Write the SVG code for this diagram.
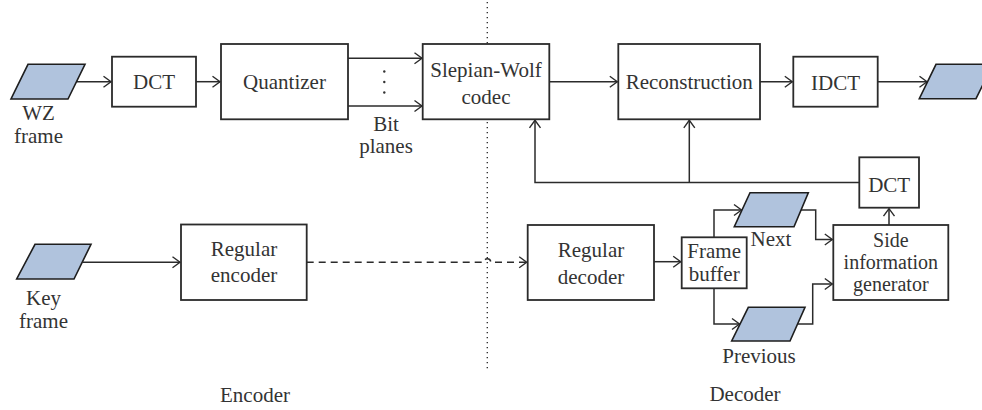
<svg xmlns="http://www.w3.org/2000/svg" width="982" height="410" viewBox="0 0 982 410">
<defs>
<marker id="arr" markerUnits="userSpaceOnUse" markerWidth="14" markerHeight="14" viewBox="-10 -7 12 14" refX="0" refY="0" orient="auto">
<path d="M-7.5,-5.5 L0,0 L-7.5,5.5" fill="none" stroke="#2b2b2b" stroke-width="1.4"/>
</marker>
</defs>
<style>
.box{fill:#fff;stroke:#2b2b2b;stroke-width:1.8}
.para{fill:#b0c3dd;stroke:#1e1e1e;stroke-width:1.6;stroke-linejoin:miter}
.ln{fill:none;stroke:#2b2b2b;stroke-width:1.5}
.t{font-family:"Liberation Serif","Times New Roman",serif;font-size:21px;fill:#333;text-anchor:middle}
.s{font-size:20px}
</style>
<rect width="982" height="410" fill="#fff"/>
<line x1="487.3" y1="2" x2="487.3" y2="372" stroke="#333" stroke-width="1.4" stroke-dasharray="1.3 3.7"/>
<g id="connectors">
<line class="ln" x1="76.5" y1="81.7" x2="111" y2="81.7" marker-end="url(#arr)"/>
<line class="ln" x1="196" y1="81.7" x2="220" y2="81.7" marker-end="url(#arr)"/>
<line class="ln" x1="348" y1="58.3" x2="422" y2="58.3" marker-end="url(#arr)"/>
<line class="ln" x1="348" y1="106" x2="422" y2="106" marker-end="url(#arr)"/>
<line class="ln" x1="549.3" y1="81.7" x2="617.3" y2="81.7" marker-end="url(#arr)"/>
<line class="ln" x1="760" y1="81.7" x2="792.3" y2="81.7" marker-end="url(#arr)"/>
<line class="ln" x1="877.7" y1="81.7" x2="927" y2="81.7" marker-end="url(#arr)"/>
<polyline class="ln" points="859.3,182.5 535,182.5 535,120.3" marker-end="url(#arr)"/>
<line class="ln" x1="689.3" y1="182.5" x2="689.3" y2="120.3" marker-end="url(#arr)"/>
<line class="ln" x1="82.5" y1="262.3" x2="180" y2="262.3" marker-end="url(#arr)"/>
<path class="ln" d="M306.7,262.3 H483.8 A3.5,3.5 0 0 1 490.8,262.3 H526.7" stroke-dasharray="7 5" marker-end="url(#arr)"/>
<line class="ln" x1="654" y1="261.7" x2="680.7" y2="261.7" marker-end="url(#arr)"/>
<polyline class="ln" points="714,237.3 714,210 741.5,210" marker-end="url(#arr)"/>
<polyline class="ln" points="714,288.3 714,324 739.5,324" marker-end="url(#arr)"/>
<polyline class="ln" points="801,210 815.7,210 815.7,239.5 832.3,239.5" marker-end="url(#arr)"/>
<polyline class="ln" points="797.5,324 812.7,324 812.7,284 832.3,284" marker-end="url(#arr)"/>
<line class="ln" x1="889" y1="225" x2="889" y2="208.7" marker-end="url(#arr)"/>
</g>
<g id="wz-frame">
<polygon class="para" points="28,64.3 85,64.3 68,99 11,99"/>
<text class="t" x="38.5" y="120">WZ</text>
<text class="t" x="38.5" y="143">frame</text>
</g>
<g id="dct1">
<rect class="box" x="112" y="56.7" width="84" height="50"/>
<text class="t" x="154" y="89">DCT</text>
</g>
<g id="quantizer">
<rect class="box" x="221" y="44" width="127" height="75.3"/>
<text class="t" x="284.5" y="89">Quantizer</text>
</g>
<g id="bit-planes">
<circle cx="384.3" cy="71.5" r="1.2" fill="#333"/>
<circle cx="384.3" cy="82" r="1.2" fill="#333"/>
<circle cx="384.3" cy="92.5" r="1.2" fill="#333"/>
<text class="t" x="386" y="130.5">Bit</text>
<text class="t" x="386" y="153">planes</text>
</g>
<g id="slepian-wolf">
<rect class="box" x="422.7" y="44" width="126.6" height="75.3"/>
<text class="t" x="486" y="76.7">Slepian-Wolf</text>
<text class="t" x="486" y="104">codec</text>
</g>
<g id="reconstruction">
<rect class="box" x="618.3" y="44" width="141.7" height="75.3"/>
<text class="t" x="689.2" y="89">Reconstruction</text>
</g>
<g id="idct">
<rect class="box" x="793.3" y="56.7" width="84.4" height="50"/>
<text class="t" x="835.5" y="89.5">IDCT</text>
</g>
<g id="output-frame">
<polygon class="para" points="936,64.3 993,64.3 976,98.7 919.3,98.7"/>
</g>
<g id="dct2">
<rect class="box" x="859.3" y="157.3" width="59.7" height="50.4"/>
<text class="t" x="889.2" y="192">DCT</text>
</g>
<g id="key-frame">
<polygon class="para" points="35,244.3 91,244.3 74,279 16.7,279"/>
<text class="t" x="43.5" y="305">Key</text>
<text class="t" x="43.5" y="328.3">frame</text>
</g>
<g id="regular-encoder">
<rect class="box" x="181" y="224.5" width="125.7" height="75.5"/>
<text class="t" x="244" y="256">Regular</text>
<text class="t" x="244" y="281.7">encoder</text>
</g>
<g id="regular-decoder">
<rect class="box" x="527.7" y="225" width="126.3" height="75"/>
<text class="t" x="591" y="256.7">Regular</text>
<text class="t" x="591" y="284">decoder</text>
</g>
<g id="frame-buffer">
<rect class="box" x="681.7" y="237.3" width="65" height="51"/>
<text class="t" x="714.2" y="258.3">Frame</text>
<text class="t" x="714.2" y="280.7">buffer</text>
</g>
<g id="next">
<polygon class="para" points="750,192.7 808.3,192.7 794,226.7 734.3,226.7"/>
<text class="t" x="771" y="246">Next</text>
</g>
<g id="previous">
<polygon class="para" points="748.3,307.3 805,307.3 790,341 731.7,341"/>
<text class="t" x="759" y="363.3">Previous</text>
</g>
<g id="side-info">
<rect class="box" x="833.3" y="225" width="115" height="75"/>
<text class="t s" x="890.8" y="246.5">Side</text>
<text class="t s" x="890.8" y="268.7">information</text>
<text class="t s" x="890.8" y="290.5">generator</text>
</g>
<g id="labels">
<text class="t" x="255" y="401.5">Encoder</text>
<text class="t" x="745" y="400.7">Decoder</text>
</g>
</svg>
